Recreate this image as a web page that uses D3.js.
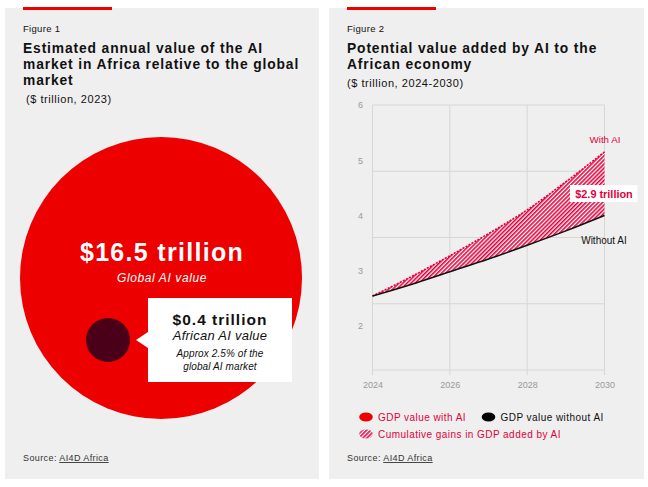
<!DOCTYPE html>
<html><head><meta charset="utf-8">
<script src="https://cdn.jsdelivr.net/npm/d3@7"></script>
<style>
html,body{margin:0;padding:0;background:#fff;}
svg{display:block;font-family:"Liberation Sans",Arial,sans-serif;}
</style></head>
<body>
<svg id="c" width="648" height="487"></svg>
<script>
// ---- Figure 1 data ----
const bubbleCategories = ["Global AI value", "African AI value"];
const bubbleValues = [16.5, 0.4];
const bubbleLabels = ["$16.5 trillion", "$0.4 trillion"];

// ---- Figure 2 data ----
const years = [2024, 2025, 2026, 2027, 2028, 2029, 2030];
const withAI = [2.54, 2.89, 3.27, 3.67, 4.10, 4.61, 5.15];
const withoutAI = [2.54, 2.75, 2.98, 3.21, 3.46, 3.72, 4.00];
const xTicks = [2024, 2026, 2028, 2030];
const yTicks = [2, 3, 4, 5, 6];
const gridValues = [1.2, 2.4, 3.6, 4.8, 6];
const gainLabel = "$2.9 trillion";

const RED = "#ec0000", PINK = "#e4003b";
const svg = d3.select("#c");

function txt(sel, o) {
  const t = sel.append("text").attr("x", o.x).attr("y", o.y).attr("font-size", o.size)
    .attr("fill", o.fill || "#111").attr("letter-spacing", o.ls || 0);
  if (o.bold) t.attr("font-weight", 700);
  if (o.italic) t.attr("font-style", "italic");
  if (o.anchor) t.attr("text-anchor", o.anchor);
  return t.text(o.text);
}

// pattern
const defs = svg.append("defs");
const P = 2.9;
const pat = defs.append("pattern").attr("id", "hatch").attr("patternUnits", "userSpaceOnUse")
  .attr("width", P).attr("height", P).attr("patternTransform", "rotate(45)");
pat.append("rect").attr("width", P).attr("height", P).attr("fill", "#fff");
pat.append("line").attr("x1", 0.8).attr("x2", 0.8).attr("y1", 0).attr("y2", P)
  .attr("stroke", PINK).attr("stroke-width", 1.6);

// panels
[[5, 8, 314, 471], [329, 8, 315, 471]].forEach(([x, y, w, h]) => {
  svg.append("rect").attr("x", x).attr("y", y).attr("width", w).attr("height", h).attr("fill", "#efefef");
  svg.append("rect").attr("x", x + 18).attr("y", 7).attr("width", 89).attr("height", 3).attr("fill", RED);
});

function header(x, fig, lines, sub, subX, subY) {
  txt(svg, {x, y: 32, size: 9.5, ls: 0.3, text: fig});
  lines.forEach((l, i) => txt(svg, {x, y: 53.3 + i * 15.6, size: 13.8, ls: 0.88, bold: true, text: l}));
  txt(svg, {x: subX, y: subY, size: 11, ls: 0.55, text: sub});
}
header(23, "Figure 1", ["Estimated annual value of the AI", "market in Africa relative to the global", "market"], "($ trillion, 2023)", 26, 103);
header(347, "Figure 2", ["Potential value added by AI to the", "African economy"], "($ trillion, 2024-2030)", 347, 87);

// ---- Figure 1 bubbles ----
const r = d3.scaleSqrt().domain([0, d3.max(bubbleValues)]).range([0, 141]);
const centers = [[161, 278], [108, 340]];
const bubbleColors = [RED, "#4b0019"];
svg.append("g").selectAll("circle").data(bubbleValues).join("circle")
  .attr("cx", (d, i) => centers[i][0]).attr("cy", (d, i) => centers[i][1])
  .attr("r", d => r(d)).attr("fill", (d, i) => bubbleColors[i]);

txt(svg, {x: 162, y: 261, size: 25, ls: 1.3, bold: true, fill: "#fff", anchor: "middle", text: bubbleLabels[0]});
txt(svg, {x: 162, y: 281.5, size: 12, ls: 0.6, italic: true, fill: "#fff", anchor: "middle", text: bubbleCategories[0]});

// callout
svg.append("path").attr("d", "M148,298 H292 V382 H148 V348 L136,340 L148,332 Z").attr("fill", "#fff");
txt(svg, {x: 220, y: 324.5, size: 15.5, ls: 1.0, bold: true, anchor: "middle", text: bubbleLabels[1]});
txt(svg, {x: 220, y: 340, size: 13, ls: 0.25, italic: true, anchor: "middle", text: bubbleCategories[1]});
txt(svg, {x: 220, y: 356.7, size: 10, ls: 0.1, italic: true, anchor: "middle", text: "Approx 2.5% of the"});
txt(svg, {x: 220, y: 369.5, size: 10, ls: 0.1, italic: true, anchor: "middle", text: "global AI market"});

function source(x) {
  const t = txt(svg, {x, y: 461, size: 9, ls: 0.4, fill: "#333", text: ""});
  t.append("tspan").text("Source: ");
  t.append("tspan").attr("text-decoration", "underline").text("AI4D Africa");
}
source(23); source(347);

// ---- Figure 2 chart ----
const x = d3.scaleLinear().domain([2024, 2030]).range([372.5, 604.5]);
const y = d3.scaleLinear().domain([1.2, 6]).range([370, 105]);
const g = svg.append("g");
g.selectAll("line.h").data(gridValues).join("line").attr("class", "h")
  .attr("x1", x(2024)).attr("x2", x(2030)).attr("y1", d => y(d)).attr("y2", d => y(d))
  .attr("stroke", "#d6d6d6").attr("stroke-width", 1);
g.selectAll("line.v").data(xTicks).join("line").attr("class", "v")
  .attr("x1", d => x(d)).attr("x2", d => x(d)).attr("y1", y(6)).attr("y2", y(1.2) + 5)
  .attr("stroke", "#d6d6d6").attr("stroke-width", 1);

const yAxis = g.append("g").attr("transform", `translate(${x(2024) - 6},0)`)
  .call(d3.axisLeft(y).tickValues(yTicks).tickSize(0).tickPadding(0).tickFormat(d3.format("d")));
yAxis.select(".domain").remove();
yAxis.selectAll("text").attr("text-anchor", "middle").attr("x", -6).attr("font-size", 9)
  .attr("fill", "#999").attr("font-family", "'Liberation Sans', Arial, sans-serif");

const xAxis = g.append("g").attr("transform", `translate(0,${y(1.2) + 5})`)
  .call(d3.axisBottom(x).tickValues(xTicks).tickSize(0).tickPadding(7).tickFormat(d3.format("d")));
xAxis.select(".domain").remove();
xAxis.selectAll("text").attr("font-size", 9).attr("fill", "#999").attr("font-family", "'Liberation Sans', Arial, sans-serif");

const curve = d3.curveMonotoneX;
const area = d3.area().x((d, i) => x(years[i])).y0((d, i) => y(withoutAI[i])).y1(d => y(d)).curve(curve);
g.append("path").datum(withAI).attr("d", area).attr("fill", "url(#hatch)");
const line = d3.line().x((d, i) => x(years[i])).y(d => y(d)).curve(curve);
g.append("path").datum(withAI).attr("d", line).attr("fill", "none").attr("stroke", PINK)
  .attr("stroke-width", 1.6).attr("stroke-dasharray", "2,1.4");
g.append("path").datum(withoutAI).attr("d", line).attr("fill", "none").attr("stroke", "#111").attr("stroke-width", 1.5);

txt(g, {x: 605, y: 142.7, size: 9.8, fill: PINK, anchor: "middle", text: "With AI"});
txt(g, {x: 604, y: 244, size: 10, fill: "#111", anchor: "middle", text: "Without AI"});
g.append("rect").attr("x", 570).attr("y", 185).attr("width", 67.5).attr("height", 17).attr("fill", "#fff");
txt(g, {x: 604, y: 197.5, size: 10.9, bold: true, fill: PINK, anchor: "middle", text: gainLabel});

// legend
const legend = [
  {label: "GDP value with AI", fill: RED, color: PINK, x: 366, y: 417},
  {label: "GDP value without AI", fill: "#000", color: "#111", x: 488.5, y: 417},
  {label: "Cumulative gains in GDP added by AI", fill: "url(#hatch)", color: PINK, x: 366, y: 434}
];
const lg = svg.append("g").selectAll("g").data(legend).join("g");
lg.append("ellipse").attr("cx", d => d.x).attr("cy", d => d.y).attr("rx", 6.8).attr("ry", 4.5).attr("fill", d => d.fill);
lg.append("text").attr("x", d => d.x + 12).attr("y", d => d.y + 3.8).attr("font-size", 10)
  .attr("letter-spacing", 0.45).attr("fill", d => d.color).text(d => d.label);
</script>
</body></html>
